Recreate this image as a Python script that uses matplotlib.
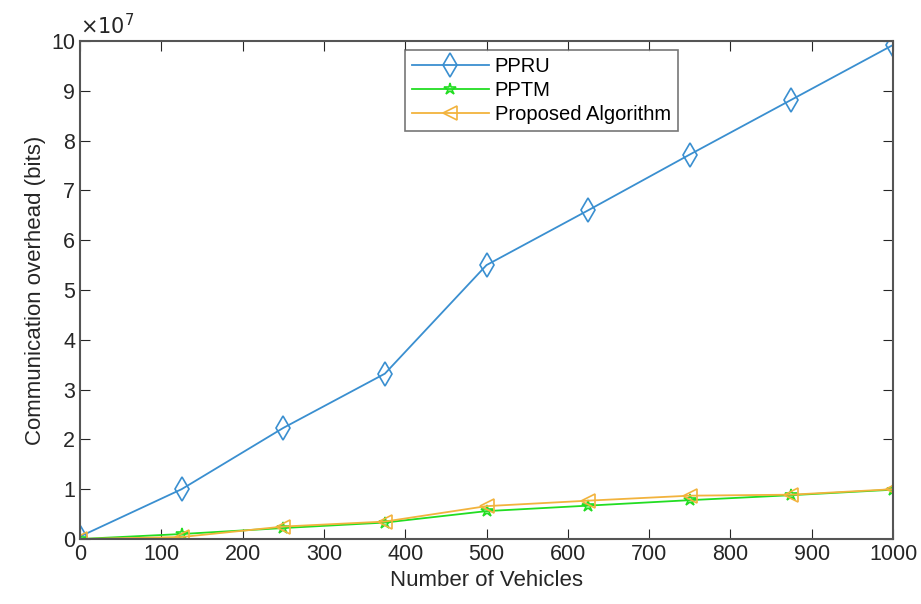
import matplotlib
matplotlib.use("Agg")
import matplotlib.pyplot as plt

vehicles = [0, 125, 250, 375, 500, 625, 750, 875, 1000]
ppru = [0.05, 1.0, 2.23, 3.32, 5.5, 6.6, 7.72, 8.82, 9.92]
pptm = [0.0, 0.1, 0.22, 0.33, 0.56, 0.67, 0.78, 0.88, 0.99]
proposed = [0.0, 0.04, 0.25, 0.35, 0.66, 0.77, 0.87, 0.89, 1.0]

plt.rcParams['font.family'] = ['Liberation Sans', 'DejaVu Sans']
gray = '#555555'
txt = '#262626'

fig = plt.figure(figsize=(9.21, 6.04), dpi=100)
ax = fig.add_axes([80/921, 1-539/604, 813/921, 498/604])

ax.plot(vehicles, ppru, '-', color='#3a8fd0', marker='d', ms=12, mfc='none', mew=1.2, lw=1.3, label='PPRU')
ax.plot(vehicles, pptm, '-', color='#22dd22', marker='*', ms=9, mfc='none', mew=1.2, lw=1.3, label='PPTM')
ax.plot(vehicles, proposed, '-', color='#f2b33d', marker='<', ms=10, mfc='none', mew=1.2, lw=1.3, label='Proposed Algorithm')

ax.set_xlim(0, 1000)
ax.set_ylim(0, 10)
ax.set_xticks(range(0, 1001, 100))
ax.set_yticks(range(0, 11))
ax.tick_params(direction='in', top=True, right=True, labelsize=15.5, colors=txt, length=7)
for s in ax.spines.values():
    s.set_color(gray)
    s.set_linewidth(1.5)
ax.text(0, 1.005, r'$\times10^7$', transform=ax.transAxes, fontsize=15, color=txt, va='bottom')

ax.set_xlabel('Number of Vehicles', fontsize=16, color=txt)
ax.set_ylabel('Communication overhead (bits)', fontsize=16, color=txt)

leg = ax.legend(loc='upper left', bbox_to_anchor=(405/921, 1-50/604), bbox_transform=fig.transFigure,
                fontsize=14.5, fancybox=False, edgecolor=gray, handlelength=3.8, handletextpad=0.3,
                borderpad=0.35, labelspacing=0.25, borderaxespad=0)
leg.get_frame().set_linewidth(1.2)

fig.savefig('out.png', dpi=100)
